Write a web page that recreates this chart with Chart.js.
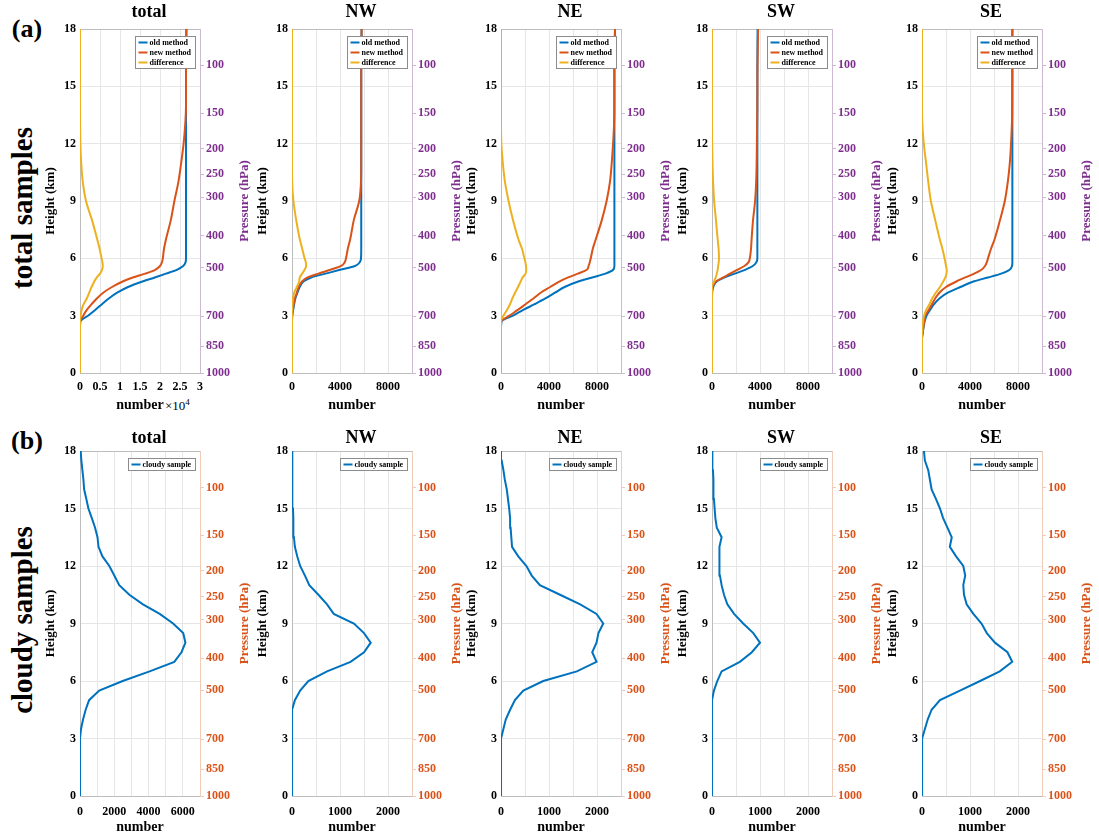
<!DOCTYPE html>
<html>
<head>
<meta charset="utf-8">
<script src="https://cdn.jsdelivr.net/npm/chart.js@4.4.1/dist/chart.umd.min.js"></script>
<style>
  body { margin: 0; background: #fff; }
  #fig { position: relative; width: 1099px; height: 838px; overflow: hidden;
         font-family: 'Liberation Serif', 'Times New Roman', serif; font-weight: bold; color: #000; }
  #fig canvas { position: absolute; }
  .lbl { position: absolute; white-space: nowrap; transform: translate(-50%, -50%); }
  .rot { transform: translate(-50%, -50%) rotate(-90deg); }
</style>
</head>
<body>
<div id="fig">
  <div class="lbl" style="left:27px;top:29px;font-size:26px">(a)</div>
  <div class="lbl" style="left:27px;top:441px;font-size:26px">(b)</div>
  <div class="lbl rot" style="left:22px;top:208px;font-size:29px">total samples</div>
  <div class="lbl rot" style="left:22px;top:620px;font-size:29px">cloudy samples</div>
  <div style="position:absolute;left:165px;top:397px;font-size:13px;font-weight:normal">×10<sup style="font-size:9px">4</sup></div>
</div>
<script>
const serif = "'Liberation Serif', 'Times New Roman', serif";

// panel names and where each plot area starts (px)
const regions = ['total', 'NW', 'NE', 'SW', 'SE'];
const plotLefts = [80, 292, 501, 712, 922];

// right axis: pressure levels placed at their heights (km)
const pressureLabels = ['1000', '850', '700', '500', '400', '300', '250', '200', '150', '100'];
const pressureHeights = [0, 1.4, 2.97, 5.52, 7.18, 9.2, 10.4, 11.75, 13.6, 16.1];

// (a) total samples, height grid (km)
const hTop = [0, 1.8, 2.1, 2.4, 2.7, 3.0, 3.3, 3.6, 3.9, 4.2, 4.5, 4.8, 5.0, 5.2, 5.4, 5.6, 5.8, 6.0, 6.5, 7.0, 8.0, 9.0, 10.0, 11.0, 12.0, 13.0, 14.0, 16.0, 18.0];

const oldTotal  = [0, 0, 0, 0, 100, 2000, 3800, 5500, 7200, 9300, 12000, 15800, 18700, 21500, 24200, 25800, 26400, 26500, 26500, 26500, 26500, 26500, 26500, 26500, 26500, 26500, 26500, 26500, 26600];
const newTotal  = [0, 0, 0, 0, 50, 800, 1700, 2900, 4200, 5800, 8000, 10800, 13200, 16300, 18800, 20000, 20500, 20700, 21000, 21500, 22700, 23600, 24600, 25300, 25900, 26300, 26500, 26500, 26600];
const diffTotal = [0, 0, 0, 0, 0, 150, 400, 900, 1700, 2300, 2900, 3600, 4200, 5000, 5500, 5700, 5600, 5400, 4900, 4300, 3000, 1500, 700, 300, 100, 30, 0, 0, 0];

const oldNW  = [0, 0, 0, 0, 0, 20, 100, 180, 280, 450, 640, 980, 1600, 2800, 4000, 5250, 5650, 5750, 5770, 5770, 5770, 5770, 5770, 5770, 5770, 5770, 5770, 5770, 5800];
const newNW  = [0, 0, 0, 0, 0, 15, 70, 140, 230, 400, 550, 850, 1300, 2200, 3200, 4100, 4400, 4500, 4650, 4850, 5150, 5600, 5750, 5770, 5770, 5770, 5770, 5770, 5800];
const diffNW = [0, 0, 0, 0, 0, 0, 20, 40, 80, 180, 400, 600, 650, 850, 1050, 1180, 1150, 1050, 850, 650, 350, 120, 10, 0, 0, 0, 0, 0, 0];

const oldNE  = [0, 0, 0, 0, 50, 1000, 1860, 2800, 3700, 4500, 5300, 6500, 7600, 8700, 9350, 9450, 9450, 9450, 9450, 9450, 9450, 9450, 9450, 9450, 9450, 9450, 9450, 9450, 9500];
const newNE  = [0, 0, 0, 0, 20, 700, 1400, 2050, 2700, 3300, 4100, 4900, 5600, 6400, 7150, 7300, 7400, 7480, 7650, 7900, 8400, 8800, 9080, 9230, 9340, 9420, 9450, 9450, 9500];
const diffNE = [0, 0, 0, 0, 0, 200, 500, 750, 950, 1170, 1420, 1650, 1800, 2050, 2100, 2080, 2030, 1950, 1750, 1450, 1000, 630, 330, 150, 30, 0, 0, 0, 0];

const oldSW  = [0, 0, 0, 0, 0, 0, 0, 0, 0, 10, 100, 420, 1050, 1900, 2750, 3400, 3700, 3780, 3780, 3780, 3780, 3780, 3780, 3780, 3780, 3780, 3780, 3780, 3800];
const newSW  = [0, 0, 0, 0, 0, 0, 0, 0, 0, 5, 50, 350, 950, 1500, 2100, 2700, 3050, 3150, 3250, 3300, 3420, 3590, 3680, 3720, 3740, 3760, 3780, 3790, 3840];
const diffSW = [0, 0, 0, 0, 0, 0, 0, 0, 0, 0, 0, 180, 310, 400, 470, 510, 560, 580, 550, 470, 330, 180, 90, 40, 10, 0, 0, 0, 0];

const oldSE  = [0, 0, 60, 130, 220, 380, 670, 1000, 1450, 2150, 3200, 4350, 5500, 6600, 7300, 7500, 7530, 7530, 7530, 7530, 7530, 7530, 7530, 7530, 7530, 7530, 7530, 7530, 7530];
const newSE  = [0, 0, 55, 120, 180, 270, 560, 830, 1100, 1450, 2000, 2900, 3600, 4350, 4950, 5250, 5400, 5500, 5750, 6050, 6500, 6900, 7150, 7320, 7420, 7490, 7520, 7530, 7530];
const diffSE = [0, 0, 10, 40, 90, 180, 350, 620, 850, 1150, 1500, 1780, 1950, 2040, 2060, 2000, 1940, 1880, 1700, 1480, 1100, 740, 520, 340, 150, 30, 0, 0, 0];

// (b) cloudy samples, height grid (km)
const hBot = [0, 0.5, 1, 1.5, 2, 2.5, 3, 3.5, 4, 4.5, 5, 5.5, 6, 6.5, 7, 7.5, 8, 8.5, 9, 9.5, 10, 10.5, 11, 11.5, 12, 12.5, 13, 13.5, 14, 14.5, 15, 15.5, 16, 16.5, 17, 17.5, 18];

const cloudyTotal = [0, 0, 0, 0, 0, 0, 0, 60, 180, 330, 530, 1120, 2490, 4060, 5500, 5920, 6150, 6020, 5430, 4650, 3670, 2880, 2290, 2000, 1710, 1310, 1080, 1020, 880, 690, 490, 370, 240, 200, 140, 80, 40];
const cloudyNW    = [0, 0, 0, 0, 0, 0, 0, 0, 0, 14, 60, 170, 340, 730, 1220, 1500, 1640, 1500, 1290, 870, 730, 550, 360, 270, 170, 110, 60, 40, 28, 28, 20, 20, 14, 5, 0, 0, 0];
const cloudyNE    = [0, 0, 0, 0, 0, 0, 5, 50, 100, 190, 290, 465, 880, 1580, 1990, 1900, 1990, 2030, 2130, 1990, 1650, 1230, 810, 640, 530, 360, 230, 215, 200, 190, 170, 145, 120, 80, 50, 14, 0];
const cloudySW    = [0, 0, 0, 0, 0, 0, 0, 0, 0, 0, 7, 40, 110, 200, 580, 830, 1000, 860, 650, 460, 320, 250, 200, 165, 150, 150, 165, 200, 100, 70, 55, 40, 30, 30, 20, 15, 0];
const cloudySE    = [0, 0, 0, 0, 0, 0, 14, 60, 120, 200, 375, 790, 1210, 1620, 1880, 1780, 1520, 1350, 1240, 1070, 930, 875, 860, 900, 860, 710, 580, 620, 530, 440, 375, 290, 200, 165, 130, 60, 40];

const oldSeries = [oldTotal, oldNW, oldNE, oldSW, oldSE];
const newSeries = [newTotal, newNW, newNE, newSW, newSE];
const diffSeries = [diffTotal, diffNW, diffNE, diffSW, diffSE];
const cloudySeries = [cloudyTotal, cloudyNW, cloudyNE, cloudySW, cloudySE];

const BLUE = '#0072BD', ORANGE = '#D95319', YELLOW = '#EDB120';
const PURPLE = '#7E2F8E';
const gridColor = '#e6e6e6';
const axisColor = '#bdbdbd';

const fig = document.getElementById('fig');

function profile(heights, values) {
  return heights.map((h, i) => ({ x: values[i], y: h }));
}

function font(size, weight) {
  return { family: serif, size: size, weight: weight || 'bold' };
}

const framePlugin = {
  id: 'frame',
  beforeDatasetsDraw(chart) {
    const { ctx, chartArea: a } = chart;
    ctx.save();
    ctx.strokeStyle = axisColor;
    ctx.lineWidth = 1;
    ctx.beginPath();
    ctx.moveTo(a.left, a.top + 0.5);
    ctx.lineTo(a.right, a.top + 0.5);
    ctx.stroke();
    ctx.restore();
  }
};

// small boxed legend in the upper right corner of the plot
const boxLegendPlugin = {
  id: 'boxLegend',
  afterDatasetsDraw(chart) {
    const { ctx, chartArea: a } = chart;
    const items = chart.data.datasets;
    ctx.save();
    ctx.font = 'bold 8px ' + serif;
    const textW = Math.max(...items.map(d => ctx.measureText(d.label).width));
    const rowH = 10, sample = 9;
    const w = Math.round(3 + sample + 2 + textW + 4);
    const h = items.length * rowH + 2;
    const x0 = Math.round(a.right - 5 - w) + 0.5;
    const y0 = Math.round(a.top + 7) + 0.5;
    ctx.fillStyle = '#fff';
    ctx.fillRect(x0, y0, w, h);
    ctx.strokeStyle = '#8c8c8c';
    ctx.lineWidth = 1;
    ctx.strokeRect(x0, y0, w, h);
    ctx.textBaseline = 'middle';
    items.forEach((d, i) => {
      const yy = y0 + 1 + rowH * (i + 0.5);
      ctx.strokeStyle = d.borderColor;
      ctx.lineWidth = 2;
      ctx.beginPath();
      ctx.moveTo(x0 + 3, yy);
      ctx.lineTo(x0 + 3 + sample, yy);
      ctx.stroke();
      ctx.fillStyle = '#000';
      ctx.fillText(d.label, x0 + 3 + sample + 2, yy);
    });
    ctx.restore();
  }
};

function makePanel(p) {
  const canvas = document.createElement('canvas');
  canvas.width = 225;
  canvas.height = p.height;
  canvas.style.left = (p.plotLeft - 50) + 'px';
  canvas.style.top = p.top + 'px';
  fig.appendChild(canvas);

  const pressureTitle = {
    id: 'pressureTitle',
    afterDraw(chart) {
      const { ctx, chartArea: a } = chart;
      ctx.save();
      ctx.translate(a.right + 45, (a.top + a.bottom) / 2);
      ctx.rotate(-Math.PI / 2);
      ctx.font = 'bold 13px ' + serif;
      ctx.fillStyle = p.pColor;
      ctx.textAlign = 'center';
      ctx.textBaseline = 'middle';
      ctx.fillText('Pressure (hPa)', 0, 0);
      ctx.restore();
    }
  };

  new Chart(canvas, {
    type: 'line',
    data: { datasets: p.datasets },
    options: {
      responsive: false,
      animation: false,
      events: [],
      indexAxis: 'y',
      layout: { padding: { left: 13, right: 0, top: 0, bottom: 0 } },
      elements: { point: { radius: 0 } },
      plugins: {
        legend: { display: false },
        tooltip: { enabled: false },
        title: {
          display: true,
          text: p.title,
          color: '#000',
          font: font(18),
          padding: p.titlePad
        }
      },
      scales: {
        x: {
          type: 'linear',
          position: 'bottom',
          min: 0,
          max: p.xMax,
          afterFit: s => { s.height = p.xAxisH; },
          ticks: {
            stepSize: p.xStep,
            autoSkip: false,
            maxRotation: 0,
            padding: p.xTickPad,
            color: '#000',
            font: font(12),
            callback: p.xLabel
          },
          grid: { color: gridColor, drawTicks: false },
          border: { color: axisColor },
          title: {
            display: true,
            text: 'number',
            color: '#000',
            font: font(14),
            padding: { top: 0, bottom: p.xTitlePad }
          }
        },
        y: {
          type: 'linear',
          position: 'left',
          min: 0,
          max: 18,
          afterFit: s => { s.width = 37; },
          ticks: { stepSize: 3, padding: 4, color: '#000', font: font(12) },
          grid: { color: gridColor, drawTicks: false },
          border: { color: axisColor },
          title: {
            display: true,
            text: 'Height (km)',
            color: '#000',
            font: font(13),
            padding: { top: 0, bottom: 0 }
          }
        },
        y2: {
          type: 'linear',
          position: 'right',
          min: 0,
          max: 18,
          afterFit: s => { s.width = 55; },
          afterBuildTicks: s => { s.ticks = pressureHeights.map(v => ({ value: v })); },
          ticks: {
            autoSkip: false,
            padding: 2,
            color: p.pColor,
            font: font(12),
            callback: (v, i) => pressureLabels[i]
          },
          grid: { drawOnChartArea: false, color: p.pAxisColor, tickLength: 4 },
          border: { color: p.pAxisColor }
        }
      }
    },
    plugins: [framePlugin, boxLegendPlugin, pressureTitle]
  });
}

// later series are drawn on top, as in the reference
function line(label, heights, values, color, smooth, order) {
  return {
    label: label,
    data: profile(heights, values),
    borderColor: color,
    backgroundColor: color,
    borderWidth: 2,
    pointRadius: 0,
    fill: false,
    order: order,
    cubicInterpolationMode: smooth ? 'monotone' : 'default',
    tension: 0
  };
}

regions.forEach((name, i) => {
  const first = i === 0;
  // row (a)
  makePanel({
    title: name,
    plotLeft: plotLefts[i],
    top: 0,
    height: 420,
    titlePad: { top: 2, bottom: 5.4 },
    xAxisH: 47,
    xTickPad: 7,
    xTitlePad: 6,
    xMax: first ? 30000 : 10000,
    xStep: first ? 5000 : 2000,
    xLabel: first ? (v => String(v / 10000)) : (v => (v % 4000 === 0 ? String(v) : '')),
    pColor: PURPLE,
    pAxisColor: '#cdb9d2',
    datasets: [
      line('old method', hTop, oldSeries[i], BLUE, true, 3),
      line('new method', hTop, newSeries[i], ORANGE, true, 2),
      line('difference', hTop, diffSeries[i], YELLOW, true, 1)
    ]
  });
  // row (b)
  makePanel({
    title: name,
    plotLeft: plotLefts[i],
    top: 420,
    height: 418,
    titlePad: { top: 8, bottom: 1.4 },
    xAxisH: 42,
    xTickPad: 9,
    xTitlePad: 2,
    xMax: first ? 7000 : 2500,
    xStep: first ? 1000 : 500,
    xLabel: first ? (v => (v % 2000 === 0 ? String(v) : '')) : (v => (v % 1000 === 0 ? String(v) : '')),
    pColor: ORANGE,
    pAxisColor: '#efcbb8',
    datasets: [
      line('cloudy sample', hBot, cloudySeries[i], BLUE, false, 1)
    ]
  });
});
</script>
</body>
</html>
